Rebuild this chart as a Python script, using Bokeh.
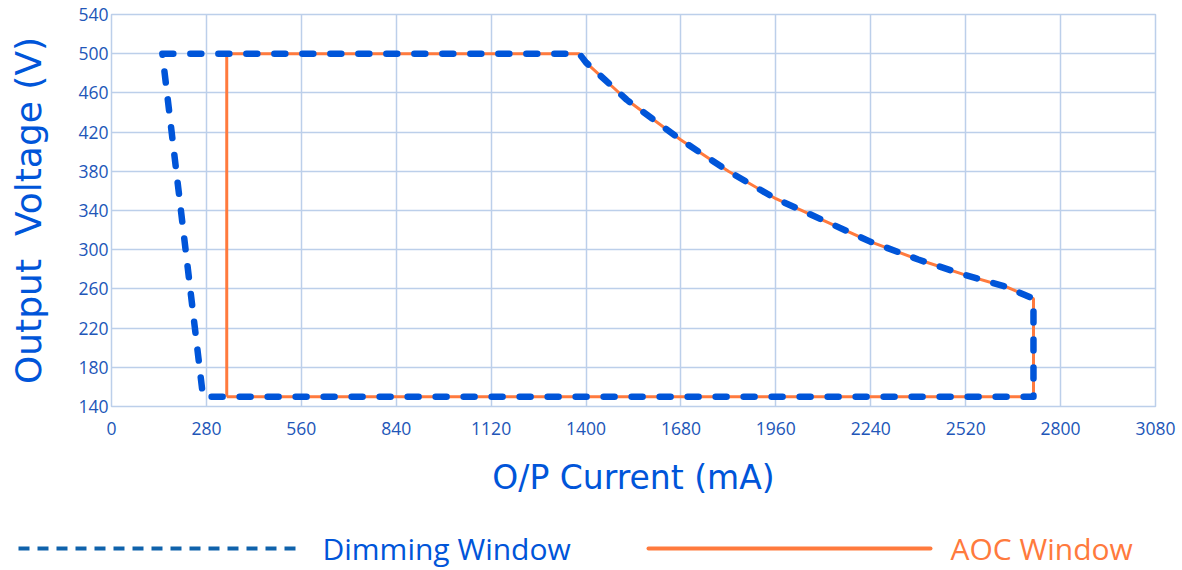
from bokeh.plotting import figure
from bokeh.models import FixedTicker, Range1d
from bokeh.layouts import column
from bokeh.core.properties import value
from bokeh.embed import file_html
from bokeh.resources import INLINE

# ---- data ----
x_ticks = [0, 280, 560, 840, 1120, 1400, 1680, 1960, 2240, 2520, 2800, 3080]
y_ticks = [140, 180, 220, 260, 300, 340, 380, 420, 460, 500, 540]

# constant-power section (shared by both windows)
curve_current = [1380, 1400, 1520, 1680, 1820, 1960, 2100, 2240, 2380, 2520, 2640, 2720]
curve_voltage = [500, 491, 453, 412, 380, 352, 330, 308, 290, 274, 262, 250]

# Dimming window corners
dim_left_top = (150, 500)
dim_left_bottom = (270, 150)
dim_right_bottom = (2720, 150)

# AOC window corners
aoc_left_top = (340, 500)
aoc_left_bottom = (340, 150)
aoc_right_bottom = (2720, 150)

series_names = ["Dimming Window", "AOC Window"]

dim_x = [dim_left_top[0]] + curve_current + [dim_right_bottom[0], dim_left_bottom[0], dim_left_top[0]]
dim_y = [dim_left_top[1]] + curve_voltage + [dim_right_bottom[1], dim_left_bottom[1], dim_left_top[1]]

aoc_x = [aoc_left_bottom[0], aoc_left_top[0]] + curve_current + [aoc_right_bottom[0], aoc_left_bottom[0]]
aoc_y = [aoc_left_bottom[1], aoc_left_top[1]] + curve_voltage + [aoc_right_bottom[1], aoc_left_bottom[1]]

BLUE = "#0055d9"
ORANGE = "#ff7a3d"
GRID = "#bccfea"
TICK = "#2256b8"
FONT = "Open Sans"
TITLE_FONT = "DejaVu Sans"

W = 1182
p = figure(width=W, height=520, output_backend="svg", toolbar_location=None,
           x_range=Range1d(0, 3080), y_range=Range1d(140, 540),
           min_border_left=111, min_border_right=27, min_border_top=14, min_border_bottom=114)

p.xaxis.ticker = FixedTicker(ticks=x_ticks)
p.yaxis.ticker = FixedTicker(ticks=y_ticks)
p.xgrid.grid_line_color = GRID
p.ygrid.grid_line_color = GRID
p.xgrid.grid_line_width = 1.5
p.ygrid.grid_line_width = 1.5
p.outline_line_color = GRID
p.outline_line_width = 1.5

for ax in (p.xaxis, p.yaxis):
    ax.axis_line_color = None
    ax.major_tick_line_color = None
    ax.minor_tick_line_color = None
    ax.major_label_text_color = TICK
    ax.major_label_text_font = FONT
    ax.major_label_text_font_size = "17.5px"
    ax.axis_label_text_color = BLUE
    ax.axis_label_text_font = TITLE_FONT
    ax.axis_label_text_font_style = "normal"

p.xaxis.axis_label = "O/P Current (mA)"
p.yaxis.axis_label = "Output\u00a0\u00a0Voltage (V)"
p.xaxis.axis_label_text_font_size = "33px"
p.yaxis.axis_label_text_font_size = "36px"
p.xaxis.major_label_standoff = 9
p.yaxis.major_label_standoff = -3
p.xaxis.axis_label_standoff = 20
p.yaxis.axis_label_standoff = 26

p.line(aoc_x, aoc_y, line_color=ORANGE, line_width=3)
p.line(dim_x, dim_y, line_color=BLUE, line_width=6.5, line_dash="11 17",
       line_cap="round", line_join="round")

# ---- legend strip (canvas pixel coordinates) ----
LH = 50
lg = figure(width=W, height=LH, output_backend="svg", toolbar_location=None,
            x_range=Range1d(0, W), y_range=Range1d(0, LH),
            min_border_left=0, min_border_right=0, min_border_top=0, min_border_bottom=0)
lg.frame_align = False
lg.axis.visible = False
lg.grid.visible = False
lg.outline_line_color = None

LY = 22
lg.line([18, 298], [LY, LY], line_color="#0f62ab", line_width=4, line_dash="11 8")
lg.text(x=[322], y=[LY], text=[series_names[0]], text_font=value(FONT),
        text_font_size="30px", text_color=BLUE, text_baseline="middle", text_align="left")
lg.line([648, 930], [LY, LY], line_color=ORANGE, line_width=4, line_cap="round")
lg.text(x=[950], y=[LY], text=[series_names[1]], text_font=value(FONT),
        text_font_size="30px", text_color=ORANGE, text_baseline="middle", text_align="left")

layout = column(p, lg, spacing=0)
open("out.html", "w").write(file_html(layout, INLINE))
